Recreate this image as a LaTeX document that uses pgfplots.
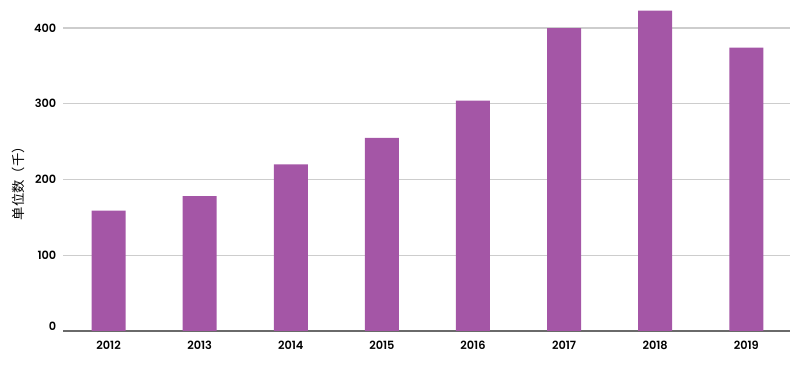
\documentclass[border=0pt]{standalone}
\usepackage{pgfplots}
\pgfplotsset{compat=1.18}
\usepackage{fontspec}
\setmainfont{Poppins SemiBold}
\newfontfamily\cjk{Noto Sans CJK SC}
\definecolor{barc}{HTML}{A456A6}
\definecolor{gridc}{HTML}{CDCDCD}
\definecolor{axc}{HTML}{6A6A6A}
\begin{document}
\begin{tikzpicture}
\path[use as bounding box] (0,0) rectangle (600pt,276pt);
\begin{axis}[
  at={(47.25pt,27.75pt)}, anchor=south west,
  scale only axis, width=545.25pt, height=248.25pt,
  xmin=-0.5, xmax=7.48, ymin=0, ymax=437,
  ybar, bar width=25.5pt,
  xtick=data,
  xticklabels={2012,2013,2014,2015,2016,2017,2018,2019},
  ytick={0,100,200,300,400},
  yticklabels={\raisebox{6.5pt}{0},100,200,300,400},
  major tick length=0pt,
  axis x line*=bottom, axis y line*=left,
  x axis line style={-, color=axc, line width=0.9pt},
  y axis line style={draw=none},
  ymajorgrids, grid style={gridc, line width=0.8pt},
  tick label style={font=\fontsize{8.5}{10}\selectfont, text=black},
  yticklabel style={anchor=east, xshift=-1.5pt},
  xticklabel style={anchor=north, yshift=-4pt},
  /pgf/number format/assume math mode=true,
  ylabel={\cjk 单位数（千）},
  ylabel style={font=\fontsize{8.5}{10}\selectfont},
  every axis y label/.style={at={(rel axis cs:0,0.456)}, rotate=90, anchor=center, yshift=33.75pt},
  clip=false,
]
\addplot[fill=barc, draw=none] coordinates {(0,159) (1,178) (2,220) (3,255) (4,304) (5,400) (6,423) (7,374)};
\end{axis}
\end{tikzpicture}
\end{document}
